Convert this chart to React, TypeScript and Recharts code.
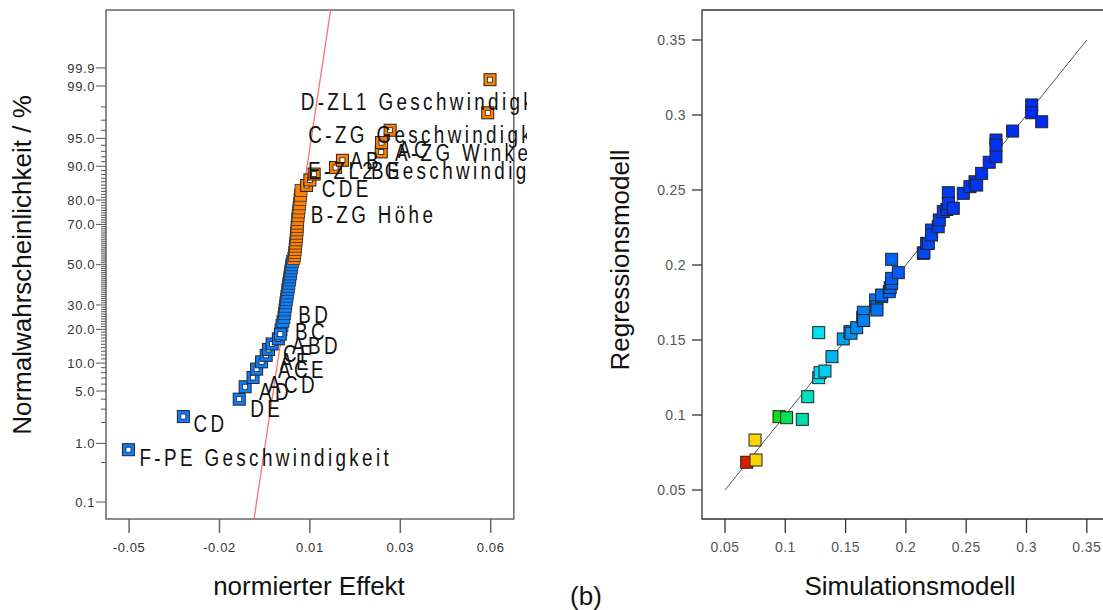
import React from "react";
import { ScatterChart, Scatter, XAxis, YAxis, ReferenceLine, ReferenceArea } from "recharts";

// ---- left: normal plot of the effects ----
// sorted effects (normierter Effekt) and their normal probabilities in %
const effects = [
  -0.0502, -0.0335, -0.0165, -0.0147, -0.0123, -0.0112, -0.0097, -0.0083, -0.0076, -0.0065,
  -0.0046, -0.004, -0.0038, -0.0035, -0.0032, -0.0029, -0.0027, -0.0026, -0.0024, -0.0023,
  -0.0021, -0.002, -0.0018, -0.0017, -0.0015, -0.0014, -0.0012, -0.0011, -0.0009, -0.0008,
  -0.0006, -0.0005, -0.0003, 0.0001, 0.0003, 0.0004, 0.0005, 0.0006, 0.0007, 0.0008,
  0.0009, 0.001, 0.0011, 0.0011, 0.0012, 0.0013, 0.0014, 0.0015, 0.0017, 0.0018,
  0.002, 0.0021, 0.0023, 0.004, 0.005, 0.0063, 0.0128, 0.0149, 0.0267, 0.0268,
  0.0294, 0.0591, 0.0598,
];
const probabilities = [
  0.8, 2.4, 4.0, 5.6, 7.1, 8.7, 10.3, 11.9, 13.5, 15.1, 16.7, 18.3, 19.8, 21.4, 23.0, 24.6,
  26.2, 27.8, 29.4, 31.0, 32.5, 34.1, 35.7, 37.3, 38.9, 40.5, 42.1, 43.7, 45.2, 46.8, 48.4,
  50.0, 51.6, 53.2, 54.8, 56.3, 57.9, 59.5, 61.1, 62.7, 64.3, 65.9, 67.5, 69.0, 70.6, 72.2,
  73.8, 75.4, 77.0, 78.6, 80.2, 81.7, 83.3, 84.9, 86.5, 88.1, 89.7, 91.3, 92.9, 94.4, 96.0,
  97.6, 99.2,
];
// ranks of the selected (hollow) effects
const selectedRanks = [1, 2, 3, 4, 5, 6, 7, 8, 9, 10, 11, 12, 54, 55, 56, 57, 58, 59, 60, 61, 62, 63];

// term labels: text, effect where the text starts, probability (%) of its middle
const termLabels = [
  "F-PE Geschwindigkeit", "CD", "DE", "AD", "ACD", "ACE", "AE", "CF", "ABD", "BC", "BD",
  "B-ZG Höhe", "CDE", "E-ZL2 Geschwindigkeit", "AB", "BE", "A-ZG Winkel", "AC",
  "C-ZG Geschwindigkeit", "D-ZL1 Geschwindigkeit",
];
const termEffects = [
  -0.04684, -0.03041, -0.01313, -0.01048, -0.00774, -0.0047, -0.00409, -0.00318, -0.00044,
  0.00047, 0.00147, 0.00525, 0.00859, 0.00442, 0.0172, 0.02359, 0.03089, 0.0318, 0.00451,
  0.0022,
];
const termProbs = [
  0.607, 1.93, 3.07, 4.87, 5.87, 8.52, 10.26, 12.24, 14.49, 19.16, 25.63, 74.12, 84.01,
  88.88, 91.15, 88.88, 92.7, 93.23, 95.44, 98.31,
];

// red normal line
const fitEffects = [-0.012, 0.0113];
const fitProbs = [0.0465, 99.954];

const effDomain = [-0.05703, 0.06703];
const effTicks = [-0.05, -0.0225, 0.005, 0.0325, 0.06];
const effTickLabels = ["-0.05", "-0.02", "0.01", "0.03", "0.06"];
const probTicks = [0.1, 1, 5, 10, 20, 30, 50, 70, 80, 90, 95, 99, 99.48];
const probTickLabels = ["0.1", "1.0", "5.0", "10.0", "20.0", "30.0", "50.0", "70.0", "80.0", "90.0", "95.0", "99.0", "99.9"];
const probMinor = [0.5, 2, 3, 4, 96, 97, 98];
for (let p = 6; p <= 94; p++) if (!probTicks.includes(p)) probMinor.push(p);

// ---- right: Regressionsmodell vs Simulationsmodell ----
const simValues = [
  0.068, 0.0757, 0.0749, 0.0948, 0.1011, 0.1141, 0.1186, 0.1277, 0.1277, 0.1288, 0.1329,
  0.1387, 0.1481, 0.1536, 0.1545, 0.1592, 0.1642, 0.1647, 0.165, 0.1749, 0.1758, 0.176,
  0.1799, 0.1799, 0.1862, 0.187, 0.1882, 0.1882, 0.1937, 0.1882, 0.2144, 0.215, 0.2172,
  0.2186, 0.2213, 0.2213, 0.2268, 0.2277, 0.231, 0.234, 0.2352, 0.2352, 0.2393, 0.2476,
  0.2531, 0.2573, 0.2587, 0.2628, 0.2691, 0.2747, 0.2747, 0.2747, 0.2885, 0.3043, 0.3043,
  0.3126,
];
const regValues = [
  0.0685, 0.07, 0.0833, 0.0989, 0.0982, 0.0971, 0.1122, 0.1549, 0.1249, 0.1282, 0.1293,
  0.1389, 0.1507, 0.1556, 0.1545, 0.1582, 0.1651, 0.1685, 0.163, 0.1767, 0.1722, 0.17,
  0.1789, 0.18, 0.1822, 0.185, 0.1878, 0.1911, 0.1949, 0.2038, 0.2078, 0.2082, 0.2144,
  0.2144, 0.2233, 0.22, 0.2255, 0.23, 0.2356, 0.237, 0.2482, 0.2411, 0.2378, 0.2478,
  0.2522, 0.2555, 0.2533, 0.2611, 0.2685, 0.2722, 0.2833, 0.28, 0.2893, 0.3067, 0.3015,
  0.2955,
];
const diagValues = [0.05, 0.35];
const simDomain = [0.03093, 0.37007];
const regDomain = [0.03067, 0.37];
const simTicks = [0.05, 0.1, 0.15, 0.2, 0.25, 0.3, 0.35];
const simTickLabels = ["0.05", "0.1", "0.15", "0.2", "0.25", "0.3", "0.35"];

const BLUE = "#0a80ff";
const ORANGE = "#ff8000";
const SANS = "'Liberation Sans', Arial, sans-serif";

// inverse normal cdf (Acklam) for the probability axis
function probit(p: number) {
  const a = [-39.69683028665376, 220.9460984245205, -275.9285104469687, 138.357751867269, -30.66479806614716, 2.506628277459239];
  const b = [-54.47609879822406, 161.5858368580409, -155.6989798598866, 66.80131188771972, -13.28068155288572];
  const c = [-0.007784894002430293, -0.3223964580411365, -2.400758277161838, -2.549732539343734, 4.374664141464968, 2.938163982698783];
  const d = [0.007784695709041462, 0.3224671290700398, 2.445134137142996, 3.754408661907416];
  const pl = 0.02425;
  if (p < pl) {
    const q = Math.sqrt(-2 * Math.log(p));
    return (((((c[0] * q + c[1]) * q + c[2]) * q + c[3]) * q + c[4]) * q + c[5]) / ((((d[0] * q + d[1]) * q + d[2]) * q + d[3]) * q + 1);
  }
  if (p > 1 - pl) {
    const q = Math.sqrt(-2 * Math.log(1 - p));
    return -(((((c[0] * q + c[1]) * q + c[2]) * q + c[3]) * q + c[4]) * q + c[5]) / ((((d[0] * q + d[1]) * q + d[2]) * q + d[3]) * q + 1);
  }
  const q = p - 0.5;
  const r = q * q;
  return ((((((a[0] * r + a[1]) * r + a[2]) * r + a[3]) * r + a[4]) * r + a[5]) * q) / (((((b[0] * r + b[1]) * r + b[2]) * r + b[3]) * r + b[4]) * r + 1);
}
const z = (pct: number) => probit(pct / 100);

const effectPoints = effects.map((e, i) => ({ x: e, y: z(probabilities[i]), selected: selectedRanks.includes(i + 1) }));
const labelPoints = termLabels.map((t, i) => ({ x: termEffects[i], y: z(termProbs[i]), text: t }));
const majorZ = probTicks.map(z);
const allProbTicks = [...majorZ, ...probMinor.map(z)];
const comparePoints = simValues.map((s, i) => ({ x: s, y: regValues[i] }));

// colour of a run by its simulated value
const colorStops: [number, number[]][] = [
  [0.068, [225, 25, 0]],
  [0.075, [255, 212, 0]],
  [0.095, [0, 225, 25]],
  [0.102, [0, 225, 95]],
  [0.114, [0, 220, 170]],
  [0.128, [0, 225, 240]],
  [0.14, [0, 175, 240]],
  [0.16, [0, 135, 240]],
  [0.19, [0, 95, 245]],
  [0.23, [0, 60, 240]],
  [0.32, [0, 40, 240]],
];
function runColor(v: number) {
  if (v <= colorStops[0][0]) return `rgb(${colorStops[0][1].join(",")})`;
  for (let i = 1; i < colorStops.length; i++) {
    const [v1, c1] = colorStops[i];
    const [v0, c0] = colorStops[i - 1];
    if (v <= v1) {
      const t = (v - v0) / (v1 - v0);
      return `rgb(${c0.map((c, k) => Math.round(c + (c1[k] - c) * t)).join(",")})`;
    }
  }
  return `rgb(${colorStops[colorStops.length - 1][1].join(",")})`;
}

const EffectMark = (p: any) => {
  const { cx, cy, payload } = p;
  const col = payload.x < 0 ? BLUE : ORANGE;
  if (payload.selected) {
    return (
      <g>
        <rect x={cx - 6} y={cy - 6} width={12} height={12} fill={col} stroke="#222" strokeWidth={1} />
        <rect x={cx - 2.5} y={cy - 2.5} width={5} height={5} fill="#fff" stroke="#222" strokeWidth={0.8} />
      </g>
    );
  }
  return <rect x={cx - 6} y={cy - 6} width={12} height={12} fill={col} stroke="#333" strokeWidth={0.8} />;
};

// narrow, spaced lettering like the original (horizontally condensed Arial)
const TermText = (p: any) => (
  <text
    transform={`translate(${p.cx},${p.cy}) scale(0.82,1)`}
    x={0}
    y={0}
    dy="0.36em"
    fontFamily={SANS}
    fontSize={23}
    letterSpacing={4.1}
    fill="#111"
  >
    {p.payload.text}
  </text>
);

const RunMark = (p: any) => (
  <rect x={p.cx - 6} y={p.cy - 6} width={12} height={12} fill={runColor(p.payload.x)} stroke="#222" strokeWidth={1} />
);

const EffTick = (p: any) => {
  const i = effTicks.indexOf(p.payload.value);
  return (
    <g>
      <line x1={p.x} x2={p.x} y1={p.y} y2={p.y + 14} stroke="#666" strokeWidth={1.5} />
      <text x={p.x} y={p.y + 28} dy="0.36em" textAnchor="middle" fontFamily={SANS} fontSize={13} letterSpacing={0.6} fill="#333">
        {effTickLabels[i]}
      </text>
    </g>
  );
};

const ProbTick = (p: any) => {
  const i = majorZ.findIndex((v) => Math.abs(v - p.payload.value) < 1e-9);
  if (i < 0) return <line x1={p.x} x2={p.x - 5} y1={p.y} y2={p.y} stroke="#555" strokeWidth={1} />;
  return (
    <g>
      <line x1={p.x} x2={p.x - 10} y1={p.y} y2={p.y} stroke="#555" strokeWidth={1} />
      <text x={p.x - 11} y={p.y} dy="0.36em" textAnchor="end" fontFamily={SANS} fontSize={13} letterSpacing={0.6} fill="#333">
        {probTickLabels[i]}
      </text>
    </g>
  );
};

const SimTick = (p: any) => {
  const i = simTicks.indexOf(p.payload.value);
  return (
    <g>
      <line x1={p.x} x2={p.x} y1={p.y} y2={p.y + 14} stroke="#333" strokeWidth={1.3} />
      <text x={p.x} y={p.y + 28} dy="0.36em" textAnchor="middle" fontFamily={SANS} fontSize={14} letterSpacing={0.4} fill="#555">
        {simTickLabels[i]}
      </text>
    </g>
  );
};

const RegTick = (p: any) => {
  const i = simTicks.indexOf(p.payload.value);
  return (
    <g>
      <line x1={p.x} x2={p.x - 10} y1={p.y} y2={p.y} stroke="#333" strokeWidth={1.3} />
      <text x={p.x - 16} y={p.y} dy="0.36em" textAnchor="end" fontFamily={SANS} fontSize={14} letterSpacing={0.4} fill="#555">
        {simTickLabels[i]}
      </text>
    </g>
  );
};

export default function App() {
  const zLo = z(fitProbs[0]);
  const zHi = z(fitProbs[1]);
  const zDomain = [-3.311, 3.316];
  return (
    <div style={{ position: "absolute", left: 0, top: 0, width: 1103, height: 610, overflow: "hidden", background: "#fff" }}>
      <div style={{ position: "absolute", left: 0, top: 0, width: 527, height: 610, overflow: "hidden" }}>
        <ScatterChart width={527} height={610} margin={{ top: 10, right: 13.2, bottom: 51, left: 0 }}>
          <XAxis
            type="number"
            dataKey="x"
            domain={effDomain}
            ticks={effTicks}
            interval={0}
            tick={(p: any) => <EffTick {...p} />}
            tickLine={false}
            axisLine={false}
            tickSize={0}
            tickMargin={0}
            height={40}
          />
          <YAxis
            type="number"
            dataKey="y"
            domain={zDomain}
            ticks={allProbTicks}
            interval={0}
            tick={(p: any) => <ProbTick {...p} />}
            tickLine={false}
            axisLine={false}
            tickSize={0}
            tickMargin={0}
            width={106}
          />
          <ReferenceArea x1={effDomain[0]} x2={effDomain[1]} y1={zDomain[0]} y2={zDomain[1]} fill="none" stroke="#666" strokeWidth={1.5} ifOverflow="visible" />
          <Scatter data={effectPoints.filter((d) => !d.selected)} shape={EffectMark} isAnimationActive={false} />
          <Scatter data={effectPoints.filter((d) => d.selected)} shape={EffectMark} isAnimationActive={false} />
          <ReferenceLine
            segment={[{ x: fitEffects[0], y: zLo }, { x: fitEffects[1], y: zHi }]}
            stroke="#ff7070"
            strokeWidth={1.3}
            ifOverflow="visible"
          />
          <Scatter data={labelPoints} shape={TermText} isAnimationActive={false} />
        </ScatterChart>
      </div>
      <div style={{ position: "absolute", left: 580, top: 0, width: 523, height: 610, overflow: "hidden" }}>
        <ScatterChart width={531} height={610} margin={{ top: 10, right: 0, bottom: 51, left: 0 }}>
          <XAxis
            type="number"
            dataKey="x"
            domain={simDomain}
            ticks={simTicks}
            interval={0}
            tick={(p: any) => <SimTick {...p} />}
            tickLine={false}
            axisLine={false}
            tickSize={0}
            tickMargin={0}
            height={40}
          />
          <YAxis
            type="number"
            dataKey="y"
            domain={regDomain}
            ticks={simTicks}
            interval={0}
            tick={(p: any) => <RegTick {...p} />}
            tickLine={false}
            axisLine={false}
            tickSize={0}
            tickMargin={0}
            width={122}
          />
          <ReferenceArea x1={simDomain[0]} x2={simDomain[1]} y1={regDomain[0]} y2={regDomain[1]} fill="none" stroke="#333" strokeWidth={1.3} ifOverflow="visible" />
          <ReferenceLine
            segment={[{ x: diagValues[0], y: diagValues[0] }, { x: diagValues[1], y: diagValues[1] }]}
            stroke="#555"
            strokeWidth={1}
            ifOverflow="visible"
          />
          <Scatter data={comparePoints} shape={RunMark} isAnimationActive={false} />
        </ScatterChart>
      </div>
      <svg style={{ position: "absolute", left: 0, top: 0 }} width={1103} height={610}>
        <g fontFamily={SANS} fontSize={26} fill="#111">
          <text x={22} y={265} dy="0.36em" textAnchor="middle" transform="rotate(-90 22 265)">
            Normalwahrscheinlichkeit / %
          </text>
          <text x={309} y={586} dy="0.36em" textAnchor="middle">
            normierter Effekt
          </text>
          <text x={620} y={260} dy="0.36em" textAnchor="middle" transform="rotate(-90 620 260)">
            Regressionsmodell
          </text>
          <text x={910} y={586} dy="0.36em" textAnchor="middle">
            Simulationsmodell
          </text>
          <text x={586} y={596} dy="0.36em" textAnchor="middle">
            (b)
          </text>
        </g>
      </svg>
    </div>
  );
}
